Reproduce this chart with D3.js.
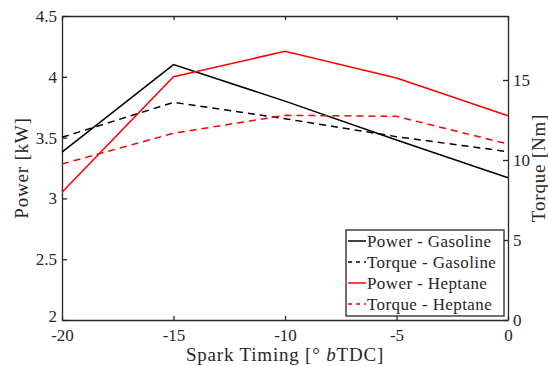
<!DOCTYPE html>
<html><head><meta charset="utf-8">
<script src="https://cdn.jsdelivr.net/npm/d3@7"></script>
<style>body{margin:0;background:#fff}text{font-family:"Liberation Serif","DejaVu Serif",serif;fill:#262626}</style>
</head><body><svg id="c" width="548" height="366"></svg>
<script>
const sparkTiming = [-20, -15, -10, -5, 0];
const powerGasoline = [3.38, 4.10, 3.80, 3.48, 3.17];
const torqueGasoline = [11.42, 13.6, 12.58, 11.46, 10.52];
const powerHeptane = [3.05, 4.00, 4.21, 3.99, 3.68];
const torqueHeptane = [9.75, 11.67, 12.79, 12.73, 11.0];
const xTicks = [-20, -15, -10, -5, 0];
const powerTicks = [2, 2.5, 3, 3.5, 4, 4.5];
const torqueTicks = [0, 5, 10, 15];
const legendLabels = ["Power - Gasoline", "Torque - Gasoline", "Power - Heptane", "Torque - Heptane"];

const svg = d3.select("#c");
const L = 62, R = 508, T = 16, B = 320;
const x = d3.scaleLinear().domain([-20, 0]).range([L, R]);
const yP = d3.scaleLinear().domain([2, 4.5]).range([B, T]);
const yT = d3.scaleLinear().domain([0, 19]).range([B, T]);

const fs = 17;
const axStyle = g => { g.select(".domain").attr("stroke", "#262626").attr("stroke-width", 1.3);
  g.selectAll(".tick line").attr("stroke", "#262626").attr("stroke-width", 1.3);
  g.selectAll(".tick text").style("font-size", fs + "px").attr("fill", "#262626"); };

svg.append("g").attr("transform", `translate(0,${B})`)
  .call(d3.axisBottom(x).tickValues(xTicks).tickSize(-4).tickPadding(9).tickSizeOuter(0).tickFormat(d => d === 0 ? "0" : "-" + Math.abs(d)))
  .call(axStyle);
svg.append("g").attr("transform", `translate(0,${T})`)
  .call(d3.axisTop(x).tickValues(xTicks).tickSize(-4).tickSizeOuter(0).tickFormat(""))
  .call(axStyle);
svg.append("g").attr("transform", `translate(${L},0)`)
  .call(d3.axisLeft(yP).tickValues(powerTicks).tickSize(-5).tickPadding(5).tickSizeOuter(0).tickFormat(d => String(d)))
  .call(axStyle)
  .call(g => g.selectAll(".tick text").filter(d => d === 2).attr("dy", "0.08em"));
svg.append("g").attr("transform", `translate(${R},0)`)
  .call(d3.axisRight(yT).tickValues(torqueTicks).tickSize(-5).tickPadding(5).tickSizeOuter(0))
  .call(axStyle);

const series = [
  {p: powerGasoline, y: yP, color: "#000", dash: null},
  {p: torqueGasoline, y: yT, color: "#000", dash: "7,5"},
  {p: powerHeptane, y: yP, color: "#ff0000", dash: null},
  {p: torqueHeptane, y: yT, color: "#ff0000", dash: "7,5"}
];
series.forEach(s => {
  const line = d3.line().x((d, i) => x(sparkTiming[i])).y(d => s.y(d));
  svg.append("path").datum(s.p).attr("d", line).attr("fill", "none")
    .attr("stroke", s.color).attr("stroke-width", 1.5)
    .attr("stroke-dasharray", s.dash);
});

const lg = svg.append("g");
lg.append("rect").attr("x", 346).attr("y", 230).attr("width", 158).attr("height", 86)
  .attr("fill", "#fff").attr("stroke", "#262626").attr("stroke-width", 1.3);
series.forEach((s, i) => {
  const yy = 241 + i * 21;
  lg.append("line").attr("x1", 348).attr("x2", 366).attr("y1", yy).attr("y2", yy)
    .attr("stroke", s.color).attr("stroke-width", 1.5).attr("stroke-dasharray", s.dash ? "4,4" : null);
  lg.append("text").attr("x", 367).attr("y", yy + 6).style("font-size", "17px")
    .style("letter-spacing", "0.4px").text(legendLabels[i]);
});

svg.append("text").attr("transform", `translate(28,${(T + B) / 2}) rotate(-90)`)
  .attr("text-anchor", "middle").style("font-size", "19px").style("letter-spacing", "0.8px").text("Power [kW]");
svg.append("text").attr("transform", `translate(545,${(T + B) / 2}) rotate(-90)`)
  .attr("text-anchor", "middle").style("font-size", "19px").style("letter-spacing", "0.8px").text("Torque [Nm]");
const xl = svg.append("text").attr("x", (L + R) / 2).attr("y", 361).attr("text-anchor", "middle")
  .style("font-size", "19px").style("letter-spacing", "0.8px");
xl.append("tspan").text("Spark Timing [° ");
xl.append("tspan").style("font-style", "italic").text("b");
xl.append("tspan").text("TDC]");
</script></body></html>
